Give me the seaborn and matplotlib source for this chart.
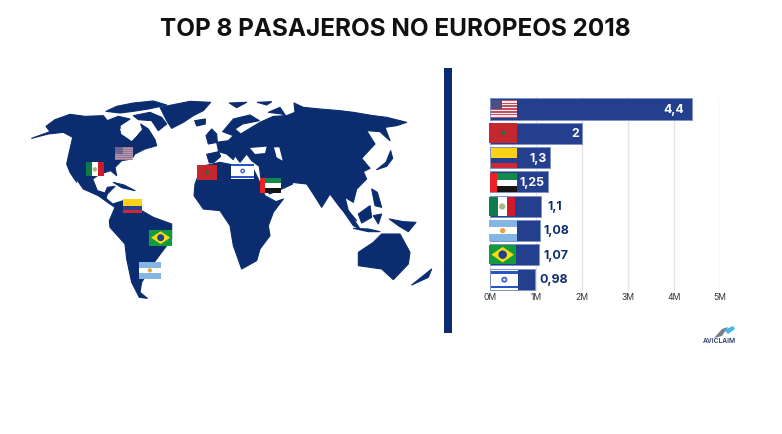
import matplotlib
matplotlib.use("Agg")
import matplotlib.pyplot as plt
import seaborn as sns
import pandas as pd
import numpy as np
from matplotlib.patches import Polygon, Rectangle, Circle

countries = ["USA", "Marruecos", "Colombia", "EAU", "México", "Argentina", "Brasil", "Israel"]
pasajeros = [4.4, 2.0, 1.3, 1.25, 1.1, 1.08, 1.07, 0.98]
value_labels = ["4,4", "2", "1,3", "1,25", "1,1", "1,08", "1,07", "0,98"]
tick_values = [0, 1, 2, 3, 4, 5]
tick_labels = ["0M", "1M", "2M", "3M", "4M", "5M"]
title = "TOP 8 PASAJEROS NO EUROPEOS 2018"

NAVY = "#0b2d70"
BAR = "#233f8e"
W, H = 782, 435

# Map outline shapes (zoom coordinates: 3x, origin 20,80)
land = [
    # Americas
    [(35,178),(90,158),(78,142),(105,122),(150,106),(195,112),(250,110),(262,125),(295,112),(330,120),(300,140),(302,165),(335,188),(350,172),(368,152),(362,135),(385,150),(405,182),(410,200),(375,210),(345,225),(335,240),(305,245),(285,265),(290,290),(272,275),(240,285),(218,300),(232,335),(255,342),(262,325),(285,322),(262,345),(258,358),(278,375),(310,365),(365,395),(400,415),(455,435),(455,480),(425,520),(395,560),(365,610),(360,640),(382,658),(358,655),(335,610),(320,540),(315,495),(270,445),(268,425),(285,385),(270,375),(235,350),(190,330),(162,290),(170,310),(150,280),(140,255),(150,210),(158,175),(130,160),(85,165)],
    # Arctic islands
    [(258,97),(290,82),(340,72),(400,66),(440,78),(385,90),(340,97),(300,102)],
    [(340,110),(390,100),(425,115),(440,135),(415,155),(395,125),(355,122)],
    # Greenland
    [(420,85),(470,75),(510,67),(572,70),(550,95),(520,110),(490,130),(455,148),(440,125)],
    # Cuba
    [(280,310),(312,318),(345,335),(305,326)],
    # Iceland, UK, Svalbard
    [(524,125),(556,120),(556,135),(530,141)],
    [(558,170),(575,150),(590,165),(592,190),(565,195)],
    [(628,72),(680,70),(650,86)], [(712,70),(755,68),(740,78)],
    [(745,100),(780,85),(800,115),(785,105)],
    # Iberia
    [(568,252),(560,226),(596,218),(602,232),(582,250)],
    # Eurasia
    [(596,218),(590,190),(625,185),(640,170),(608,158),(640,120),(690,108),(718,125),(668,135),(645,150),(662,165),(720,130),(760,112),(800,110),(825,100),(822,72),(850,85),(900,90),(960,95),(1000,100),(1060,110),(1100,115),(1160,130),(1130,140),(1095,145),(1110,185),(1095,172),(1080,158),(1040,155),(1065,195),(1025,238),(1050,268),(1030,278),(1040,300),(1010,330),(1000,370),(975,355),(985,395),(1010,425),(985,410),(960,385),(930,345),(905,385),(880,345),(860,315),(815,310),(775,282),(800,295),(818,315),(790,328),(748,345),(722,295),(718,262),(695,245),(680,225),(660,250),(645,230),(640,242),(620,225)],
    # Africa
    [(525,315),(545,262),(600,250),(700,270),(715,300),(735,350),(768,368),(790,360),(760,400),(745,440),(750,470),(720,510),(710,545),(665,570),(640,500),(630,440),(600,395),(550,390),(522,350)],
    # Asia-Pacific islands
    [(1070,272),(1098,250),(1112,215),(1118,238),(1100,262)],
    [(1055,330),(1072,340),(1085,385),(1065,380)],
    [(962,385),(985,395),(1020,450),(1000,440)],
    [(1000,448),(1045,450),(1080,458),(1045,458)],
    [(1015,405),(1050,380),(1055,415),(1025,432)],
    [(1060,410),(1085,405),(1075,435)],
    [(1108,420),(1150,428),(1188,430),(1165,458),(1135,440)],
    # Australia, New Zealand
    [(1015,520),(1060,490),(1085,465),(1140,465),(1170,520),(1165,555),(1120,602),(1085,570),(1015,560)],
    [(1175,618),(1235,570),(1225,595)],
]
seas = [
    [(300,150),(340,135),(362,150),(350,170),(335,185),(305,165)],
    [(690,207),(740,203),(735,222),(705,225)],
    [(762,205),(778,205),(788,245),(770,235)],
]

# Flag boxes: x0, y0, x1, y1
bar_flag_boxes = {  # zoom coordinates: 3x, origin 440,90
    "USA": (152,32,230,88), "Marruecos": (148,102,232,162), "Colombia": (152,178,230,236),
    "EAU": (150,252,230,310), "México": (148,323,225,382), "Argentina": (146,394,230,456),
    "Brasil": (148,468,228,526), "Israel": (152,542,234,602),
}
map_flag_boxes = {  # zoom coordinates: 3x, origin 20,80
    "USA": (285,203,338,243), "México": (197,250,252,292), "Marruecos": (531,258,592,304),
    "Israel": (634,252,702,300), "EAU": (720,296,784,342), "Colombia": (310,360,366,402),
    "Brasil": (388,452,456,500), "Argentina": (357,549,422,599),
}

sns.set_theme(style="white")
plt.rcParams["font.family"] = ["Inter", "DejaVu Sans"]

fig = plt.figure(figsize=(W / 100, H / 100), dpi=100, facecolor="white")

# Overlay in pixel coordinates for map and flags
ov = fig.add_axes([0, 0, 1, 1], zorder=1)
ov.set_xlim(0, W); ov.set_ylim(H, 0); ov.axis("off")

def zm(pts, ox, oy):
    return [(ox + x / 3, oy + y / 3) for x, y in pts]

for poly in land:
    ov.add_patch(Polygon(zm(poly, 20, 80), closed=True, fc=NAVY, ec=NAVY, lw=0.8, joinstyle="round"))
for poly in seas:
    ov.add_patch(Polygon(zm(poly, 20, 80), closed=True, fc="white", ec="none"))
ov.add_patch(Rectangle((443.5, 69), 8.5, 265, fc=NAVY, ec="none"))

def flag(name, box, ox, oy, z=5, alpha=1.0):
    x0, y0 = ox + box[0] / 3, oy + box[1] / 3
    w, h = (box[2] - box[0]) / 3, (box[3] - box[1]) / 3
    def r(fx, fy, fw, fh, c):
        ov.add_patch(Rectangle((x0 + fx * w, y0 + fy * h), fw * w, fh * h, fc=c, ec="none", zorder=z, alpha=alpha))
    def dot(fx, fy, rad, c):
        ov.add_patch(Circle((x0 + fx * w, y0 + fy * h), rad * h, fc=c, ec="none", zorder=z + 1, alpha=alpha))
    if name == "USA":
        r(0, 0, 1, 1, "#f4eef0")
        for i in range(0, 13, 2):
            r(0, i / 13, 1, 1 / 13, "#c2505f")
        r(0, 0, .45, .52, "#4a4f85")
    elif name == "Marruecos":
        r(0, 0, 1, 1, "#c4272e"); dot(.5, .5, .12, "#2f6b3c")
    elif name == "Colombia":
        r(0, 0, 1, .5, "#fdd116"); r(0, .5, 1, .25, "#24408e"); r(0, .75, 1, .25, "#ce2a35")
    elif name == "EAU":
        r(0, 0, 1, .34, "#138a4b"); r(0, .34, 1, .33, "white"); r(0, .67, 1, .33, "#151515"); r(0, 0, .25, 1, "#ed2024")
    elif name == "México":
        r(0, 0, .34, 1, "#0f7a4a"); r(.34, 0, .33, 1, "white"); r(.67, 0, .33, 1, "#ce1a2b"); dot(.5, .5, .16, "#a9b58a")
    elif name == "Argentina":
        r(0, 0, 1, 1, "white"); r(0, 0, 1, .33, "#83b6e3"); r(0, .67, 1, .33, "#83b6e3"); dot(.5, .5, .13, "#e8a33d")
    elif name == "Brasil":
        r(0, 0, 1, 1, "#119b3c")
        ov.add_patch(Polygon([(x0 + .08 * w, y0 + .5 * h), (x0 + .5 * w, y0 + .1 * h), (x0 + .92 * w, y0 + .5 * h), (x0 + .5 * w, y0 + .9 * h)], fc="#fbdc0f", ec="none", zorder=z))
        dot(.5, .5, .22, "#23408f")
    elif name == "Israel":
        r(0, 0, 1, 1, "white"); r(0, .08, 1, .12, "#2a55c8"); r(0, .8, 1, .12, "#2a55c8"); dot(.5, .5, .15, "#3a63cc"); dot(.5, .5, .06, "white")

for n, b in map_flag_boxes.items():
    flag(n, b, 20, 80, alpha=0.6 if n == "USA" else 1.0)
for n, b in bar_flag_boxes.items():
    flag(n, b, 440, 90)

# Bar chart
ax = fig.add_axes([490.3 / W, 1 - 292.25 / H, 229.7 / W, 194.4 / H], zorder=0)
df = pd.DataFrame({"pais": countries, "pasajeros": pasajeros})
sns.barplot(data=df, y="pais", x="pasajeros", color=BAR, saturation=1, width=0.865,
            edgecolor="#7f92c4", linewidth=0.6, ax=ax, zorder=3)
ax.set_xlim(0, 5)
ax.set_ylim(7.5, -0.5)
ax.set_xlabel(""); ax.set_ylabel("")
ax.set_yticks([])
ax.set_xticks(tick_values, tick_labels, fontsize=6.2, color="#333333")
ax.tick_params(axis="x", length=0, pad=0.8)
ax.grid(axis="x", color="#e4e4e4", linewidth=1)
ax.set_axisbelow(True)
for s in ax.spines.values():
    s.set_visible(False)

# Value labels: white inside the long bars, navy beside the short ones
px = 0.72
for i, (v, lab) in enumerate(zip(pasajeros, value_labels)):
    if i < 4:
        ax.annotate(lab, (v, i), xytext=(-(8 if i == 0 else 3) * px, 0), textcoords="offset points",
                    ha="right", va="center", color="white", fontsize=8.9, fontweight="bold", zorder=6)
    else:
        ax.annotate(lab, (v, i), xytext=((7 if i == 4 else 4) * px, 0), textcoords="offset points",
                    ha="left", va="center", color=NAVY, fontsize=8.9, fontweight="bold", zorder=6)

fig.text(395 / W, 1 - 30 / H, title, ha="center", va="center", fontsize=17.5, fontweight="bold", color="#111111")

# Logo
ov.add_patch(Polygon([(714, 339), (722, 330), (728, 328), (722, 337)], fc="#7a7f8c", ec="none"))
ov.add_patch(Polygon([(724, 331), (733, 327), (735, 330), (728, 335)], fc="#45b8e6", ec="none"))
ov.text(719, 341.5, "AVICLAIM", ha="center", va="center", fontsize=4.8, color="#2a3a6a", fontweight="semibold")

fig.savefig("out.png", dpi=100, facecolor="white")
